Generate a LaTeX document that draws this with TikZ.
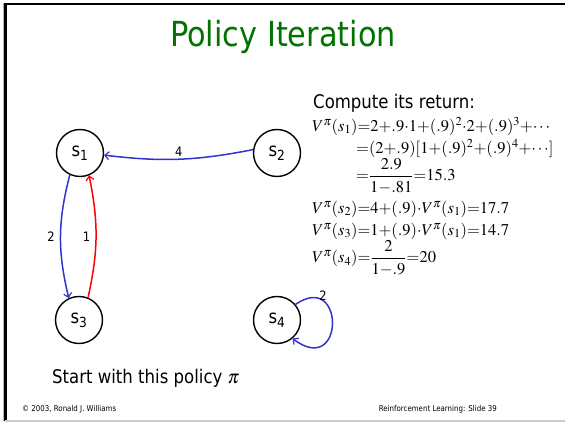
\documentclass[tikz,border=0pt]{standalone}
\usepackage{mathptmx}
\usepackage[no-math]{fontspec}
\setmainfont{DejaVu Sans}[FakeStretch=0.88]
\usetikzlibrary{arrows.meta}
\definecolor{titlegreen}{RGB}{0,115,0}
\definecolor{edgeblue}{RGB}{51,51,204}
\definecolor{edgered}{RGB}{255,0,0}
\newcommand{\Vpi}{V^{\pi}}
\newcommand{\tightmath}{\thickmuskip=0mu\relax\medmuskip=0mu\relax}
\begin{document}
\begin{tikzpicture}[x=1pt,y=1pt,
  state/.style={circle,draw,line width=1.4pt,minimum size=47pt,inner sep=0pt,
    font=\fontsize{18.8}{20}\selectfont},
  titletext/.style={font=\fontsize{34.5}{38}\selectfont,text=titlegreen,inner sep=0pt},
  body/.style={font=\fontsize{18.8}{22}\selectfont,inner sep=0pt},
  eq/.style={font=\fontsize{16.5}{20}\selectfont,inner sep=0pt,anchor=west},
  elabel/.style={font=\fontsize{13}{15}\selectfont,inner sep=1pt},
  link/.style={line width=1.5pt,-{Straight Barb[length=4pt,width=8pt,line width=1.2pt]}},
  foot/.style={font=\fontsize{8}{10}\selectfont,inner sep=0pt}]
\useasboundingbox (0,0) rectangle (565,423);

% slide frame
\draw[line width=2.5pt] (4,419) -- (565,419);
\draw[line width=2.5pt] (5.5,420) -- (5.5,2);
\draw[gray!60,line width=1pt] (3.7,420) -- (3.7,2);
\draw[black!20,line width=1.5pt] (5,2) -- (565,2);

% title
\node[titletext] (title) at (283,386) {Policy Iteration};

% states
\node[state] (s1) at (80,270) {s\textsubscript{1}};
\node[state] (s2) at (277,270) {s\textsubscript{2}};
\node[state] (s3) at (79,103) {s\textsubscript{3}};
\node[state] (s4) at (277,103) {s\textsubscript{4}};

% policy transitions with rewards
\draw[link,edgeblue] (s2.172) to[bend left=9] node[elabel,above=1pt,text=black] {4} (s1.-5);
\draw[link,edgeblue] (s1.245) to[bend right=14] node[elabel,left=4pt,text=black] {2} (s3.115);
\draw[link,edgered] (s3.68) to[bend right=12] node[elabel,left=4pt,text=black] {1} (s1.292);
\draw[link,edgeblue] (s4.40) .. controls +(49.6,34.6) and +(52.6,-39.6) .. (s4.-50);
\node[elabel] (loopw) at ([shift={(46,24)}]s4.center) {2};

% value computation
\node[body,anchor=west] (compute) at (313,320) {Compute its return:};
\node[eq] (v1) at (312,297) {$\tightmath\Vpi(s_1)=2+.9\cdot1+(.9)^2\cdot2+(.9)^3+\cdots$};
\node[eq] (v1b) at (356,275) {$\tightmath=(2+.9)[1+(.9)^2+(.9)^4+\cdots]$};
\node[eq] (v1c) at (356,247) {$\tightmath={\displaystyle\frac{2.9}{1-.81}}=15.3$};
\node[eq] (v2) at (312,214) {$\tightmath\Vpi(s_2)=4+(.9)\cdot\Vpi(s_1)=17.7$};
\node[eq] (v3) at (312,192) {$\tightmath\Vpi(s_3)=1+(.9)\cdot\Vpi(s_1)=14.7$};
\node[eq] (v4) at (312,165) {$\tightmath\Vpi(s_4)={\displaystyle\frac{2}{1-.9}}=20$};

\node[body,anchor=west] (start) at (52,45) {Start with this policy $\pi$};

% footer
\node[foot,anchor=west] (copy) at (22,14) {© 2003, Ronald J. Williams};
\node[foot,anchor=east] (slide) at (497,14) {Reinforcement Learning: Slide 39};
\end{tikzpicture}
\end{document}
